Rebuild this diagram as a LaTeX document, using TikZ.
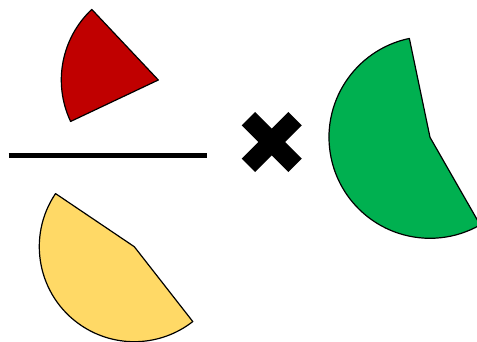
\documentclass[tikz,border=0pt]{standalone}
\definecolor{myred}{HTML}{C00000}
\definecolor{myyellow}{HTML}{FFD966}
\definecolor{mygreen}{HTML}{00B050}
\begin{document}
\begin{tikzpicture}[x=1pt,y=1pt,
  sector/.style={draw=black, line width=1.2pt, line join=round},
  crossbar/.style={fill=black}]
\useasboundingbox (0,0) rectangle (477,341);
\clip (0,0) rectangle (477,341);
% red sector (1/5)
\coordinate (rc) at (158.3,261);
\filldraw[sector, fill=myred] (rc) -- ++(133.3:97) arc[start angle=133.3, end angle=205.3, radius=97] -- cycle;
% yellow sector
\coordinate (yc) at (134.3,94.3);
\filldraw[sector, fill=myyellow] (yc) -- ++(146:95) arc[start angle=146, end angle=308, radius=95] -- cycle;
% green sector
\coordinate (gc) at (430,203.7);
\filldraw[sector, fill=mygreen] (gc) -- ++(101.8:101) arc[start angle=101.8, end angle=299.8, radius=101] -- cycle;
% fraction bar
\coordinate (la) at (8.7,185.5);
\coordinate (lb) at (207,185.5);
\draw[line width=5.5pt] (la) -- (lb);
% multiplication cross
\coordinate (xc) at (271.7,199);
\fill[crossbar, shift={(xc)}, rotate=45] (-33,-9.5) rectangle (33,9.5);
\fill[crossbar, shift={(xc)}, rotate=-45] (-33,-9.5) rectangle (33,9.5);
\end{tikzpicture}
\end{document}
